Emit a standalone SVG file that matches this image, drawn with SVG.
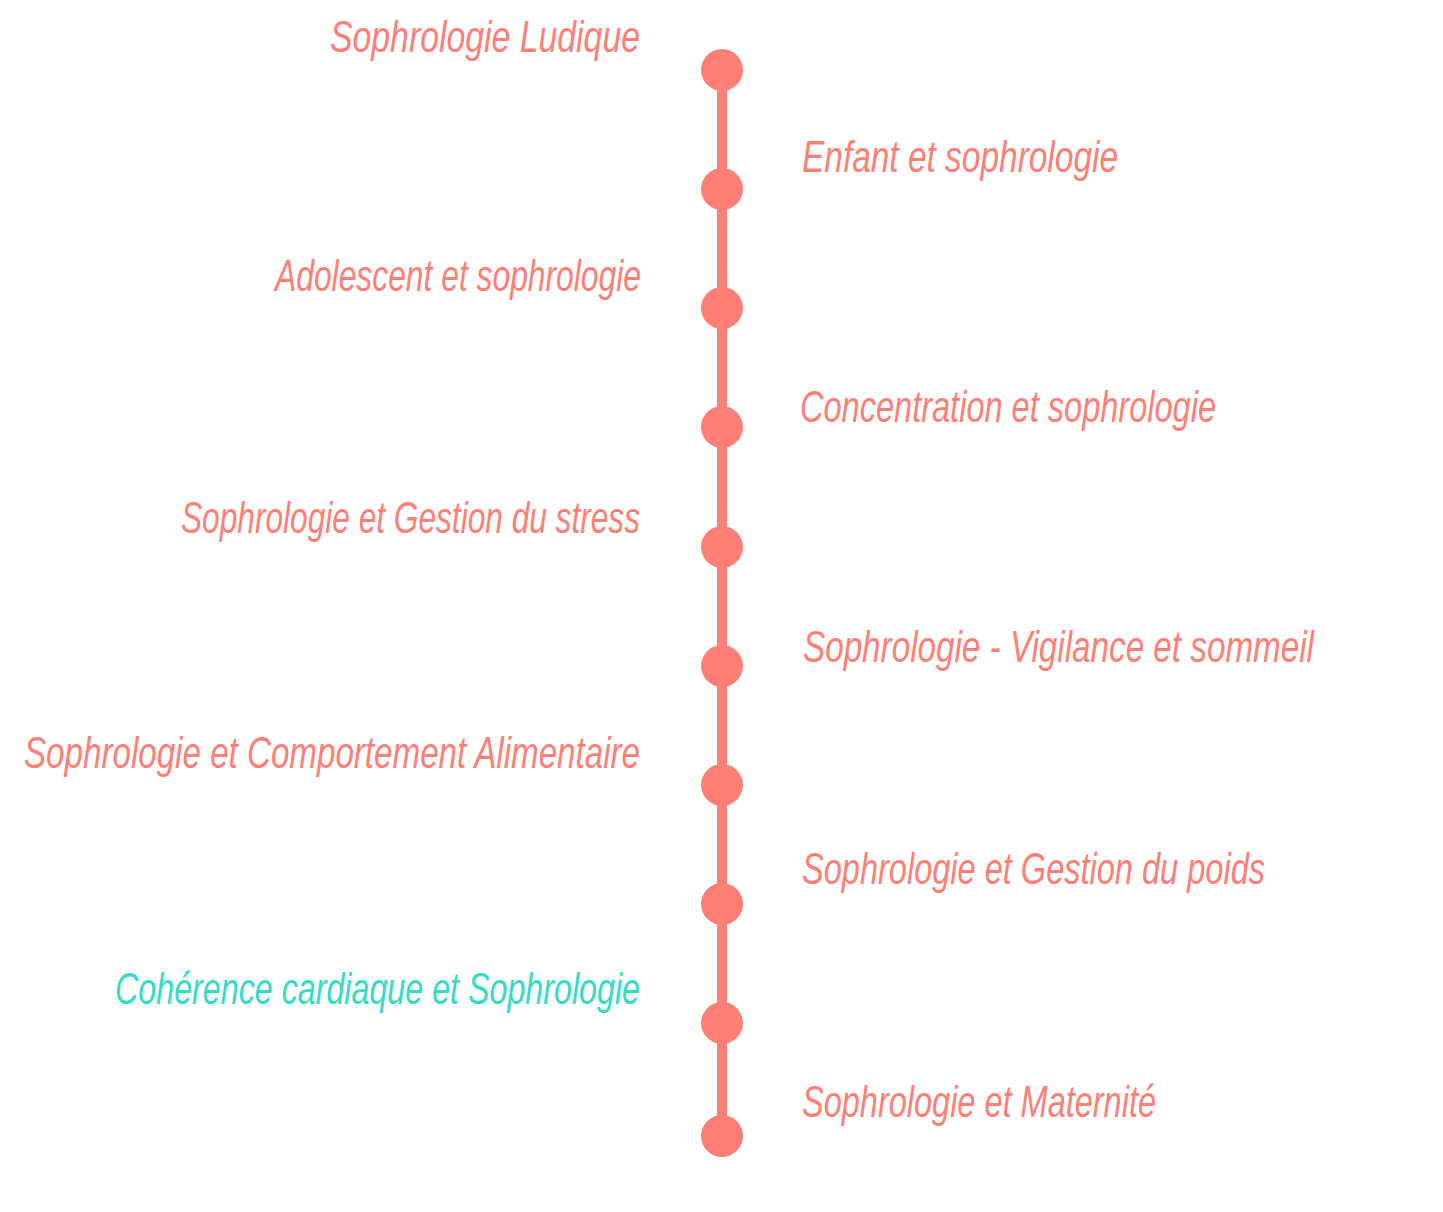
<svg xmlns="http://www.w3.org/2000/svg" width="1443" height="1212" viewBox="0 0 1443 1212">
<style>
.lbl{font-family:"Liberation Sans","DejaVu Sans",sans-serif;font-style:italic;font-size:44px;fill:#FF7F77}
.l{text-anchor:end}
.teal{fill:#36DBC6}
.dot{fill:#FF7F77}
</style>
<rect width="1443" height="1212" fill="#FFFFFF"/>
<g id="connectors">
<line x1="722" y1="70" x2="722" y2="1136" stroke="#FF7F77" stroke-width="10"/>
</g>
<g id="n1"><circle class="dot" cx="722" cy="70" r="21"/><text class="lbl l" x="640" y="52" textLength="310" lengthAdjust="spacingAndGlyphs">Sophrologie Ludique</text></g>
<g id="n2"><circle class="dot" cx="722" cy="189" r="21"/><text class="lbl" x="802" y="172" textLength="316" lengthAdjust="spacingAndGlyphs">Enfant et sophrologie</text></g>
<g id="n3"><circle class="dot" cx="722" cy="308" r="21"/><text class="lbl l" x="641" y="291" textLength="366" lengthAdjust="spacingAndGlyphs">Adolescent et sophrologie</text></g>
<g id="n4"><circle class="dot" cx="722" cy="427" r="21"/><text class="lbl" x="800" y="422" textLength="416" lengthAdjust="spacingAndGlyphs">Concentration et sophrologie</text></g>
<g id="n5"><circle class="dot" cx="722" cy="547" r="21"/><text class="lbl l" x="640" y="533" textLength="459" lengthAdjust="spacingAndGlyphs">Sophrologie et Gestion du stress</text></g>
<g id="n6"><circle class="dot" cx="722" cy="666" r="21"/><text class="lbl" x="803" y="662" textLength="511" lengthAdjust="spacingAndGlyphs">Sophrologie - Vigilance et sommeil</text></g>
<g id="n7"><circle class="dot" cx="722" cy="785" r="21"/><text class="lbl l" x="640" y="768" textLength="616" lengthAdjust="spacingAndGlyphs">Sophrologie et Comportement Alimentaire</text></g>
<g id="n8"><circle class="dot" cx="722" cy="904" r="21"/><text class="lbl" x="802" y="884" textLength="463" lengthAdjust="spacingAndGlyphs">Sophrologie et Gestion du poids</text></g>
<g id="n9"><circle class="dot" cx="722" cy="1023" r="21"/><text class="lbl l teal" x="640" y="1004" textLength="525" lengthAdjust="spacingAndGlyphs">Cohérence cardiaque et Sophrologie</text></g>
<g id="n10"><circle class="dot" cx="722" cy="1136" r="21"/><text class="lbl" x="802" y="1117" textLength="354" lengthAdjust="spacingAndGlyphs">Sophrologie et Maternité</text></g>
</svg>
